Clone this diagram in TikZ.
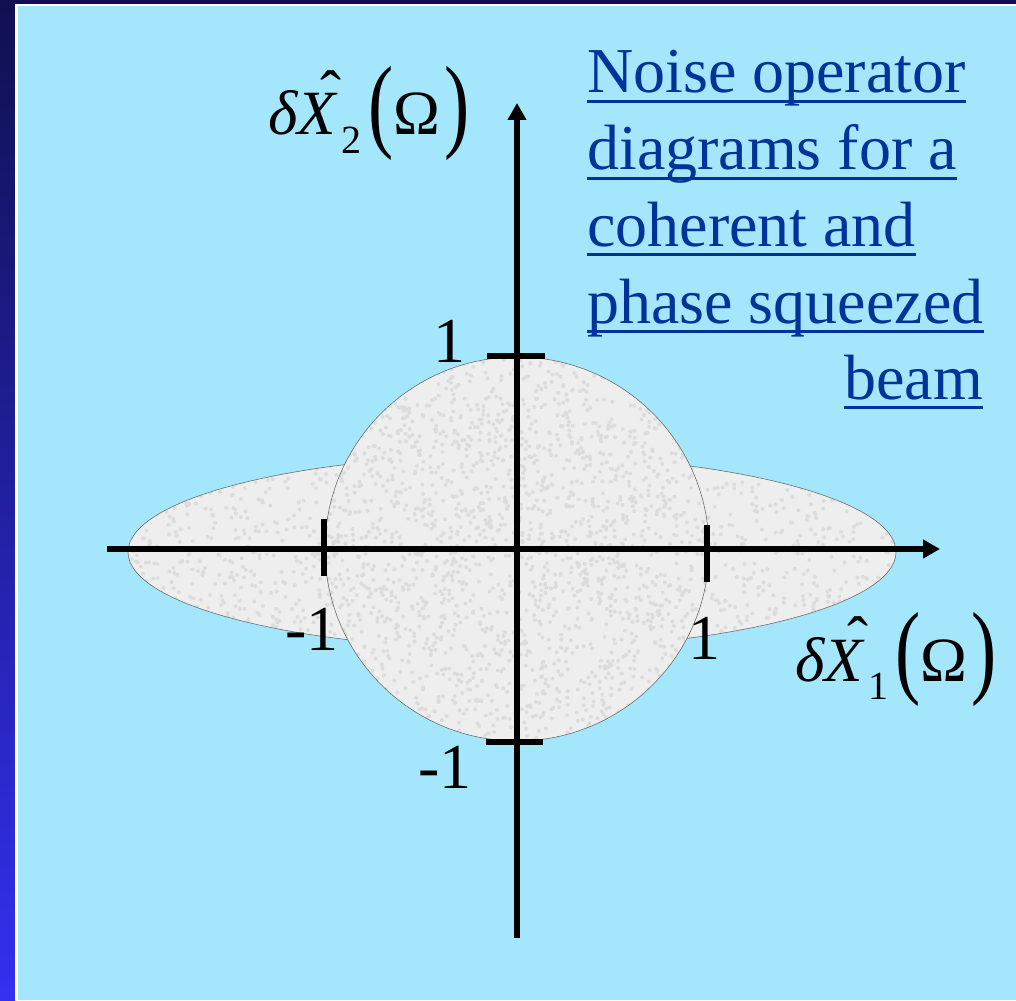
\documentclass[tikz,border=0pt]{standalone}
\usepackage{fontspec}
\setmainfont{Liberation Serif}
\usepackage{graphicx}
\usetikzlibrary{arrows.meta}
\definecolor{panel}{RGB}{164,230,252}
\definecolor{navytop}{RGB}{16,16,80}
\definecolor{navybot}{RGB}{51,48,240}
\definecolor{linkblue}{RGB}{0,51,153}
\definecolor{blobgray}{RGB}{238,238,238}
\definecolor{speck}{RGB}{220,220,220}
\definecolor{bloboutline}{RGB}{110,110,110}
\newcommand{\qhatX}{\makebox[0pt][l]{\hspace{0.36em}\raisebox{0.33em}{\upshape ˆ}}X}
\newcommand{\qparen}[1]{\raisebox{-0.05em}{\scalebox{1.2}[1.65]{#1}}}
\newcommand{\qlabel}[1]{{\itshape δ\qhatX}\hspace{0.08em}\raisebox{-0.3em}{\fontsize{40pt}{40pt}\selectfont #1}\hspace{0.12em}\qparen{(}Ω\hspace{0.06em}\qparen{)}}
\begin{document}
\begin{tikzpicture}[x=1pt,y=-1pt,
  axis/.style={line width=6pt, -{Triangle[length=17pt,width=18pt]}},
  tickmark/.style={line width=6.5pt},
  outline/.style={draw=bloboutline, line width=0.6pt},
  ticklbl/.style={font=\fontsize{64pt}{64pt}\selectfont, inner sep=0pt, anchor=base east},
  axlbl/.style={font=\fontsize{63pt}{64pt}\selectfont, inner sep=0pt, anchor=base west},
  titleline/.style={font=\fontsize{64pt}{64pt}\selectfont, text=linkblue, inner sep=0pt},
  uline/.style={draw=linkblue, line width=3pt}]
\useasboundingbox (0,0) rectangle (1016,1000);
% frame
\fill[navytop] (0,0) rectangle (1016,1000);
\shade[top color=navytop, bottom color=navybot] (0,0) rectangle (15,1000);
\fill[white] (15,4) rectangle (1016,1000);
\fill[panel] (18,6) rectangle (1016,1000);
% squeezed ellipse
\fill[blobgray] (512,552) ellipse [x radius=384pt, y radius=97pt];
\begin{scope}
  \clip (512,552) ellipse [x radius=384pt, y radius=97pt];
  \pgfmathsetseed{7}
  \foreach \i in {1,...,1500}{
    \pgfmathsetmacro{\px}{128+769*rnd}
    \pgfmathsetmacro{\py}{455+194*rnd}
    \fill[speck] (\px,\py) circle [radius=2pt];
  }
\end{scope}
\draw[outline] (512,552) ellipse [x radius=384pt, y radius=97pt];
% coherent circle
\fill[blobgray] (517,549) circle [radius=192pt];
\begin{scope}
  \clip (517,549) circle [radius=192pt];
  \pgfmathsetseed{11}
  \foreach \i in {1,...,2200}{
    \pgfmathsetmacro{\px}{325+384*rnd}
    \pgfmathsetmacro{\py}{357+384*rnd}
    \fill[speck] (\px,\py) circle [radius=2pt];
  }
\end{scope}
\draw[outline] (517,549) circle [radius=192pt];
% axes
\coordinate (xl) at (107,549);
\coordinate (xr) at (940,549);
\coordinate (yb) at (517,938);
\coordinate (yt) at (517,103);
\draw[axis] (xl) -- (xr);
\draw[axis] (yb) -- (yt);
% ticks
\coordinate (tta) at (487,356); \coordinate (ttb) at (545,356);
\coordinate (tba) at (486,742); \coordinate (tbb) at (543,742);
\coordinate (tla) at (324,519); \coordinate (tlb) at (324,576);
\coordinate (tra) at (707,525); \coordinate (trb) at (707,582);
\draw[tickmark] (tta) -- (ttb);
\draw[tickmark] (tba) -- (tbb);
\draw[tickmark] (tla) -- (tlb);
\draw[tickmark] (tra) -- (trb);
% tick labels
\node[ticklbl] (ltop) at (466,362) {1};
\node[ticklbl] (lbot) at (472,788) {-1};
\node[ticklbl] (lleft) at (339,650) {-1};
\node[ticklbl] (lright) at (721,659) {1};
% axis labels
\node[axlbl] (ylab) at (268,135) {\qlabel{2}};
\node[axlbl] (xlab) at (795,681) {\qlabel{1}};
% title
\node[titleline, anchor=base west] (L1) at (587,93) {Noise operator};
\node[titleline, anchor=base west] (L2) at (587,170) {diagrams for a};
\node[titleline, anchor=base west] (L3) at (587,246) {coherent and};
\node[titleline, anchor=base west] (L4) at (587,323) {phase squeezed};
\node[titleline, anchor=base east] (L5) at (983,399) {beam};
\foreach \n in {L1,L2,L3,L4,L5}{
  \draw[uline] ([yshift=-8.5pt]\n.base west) -- ([yshift=-8.5pt]\n.base east);
}
\end{tikzpicture}
\end{document}
